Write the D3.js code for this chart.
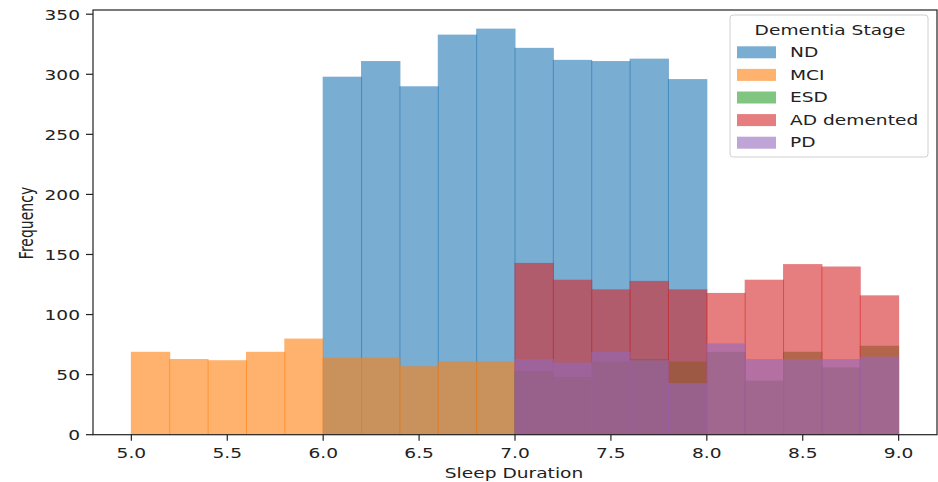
<!DOCTYPE html>
<html>
<head>
<meta charset="utf-8">
<script src="https://cdn.jsdelivr.net/npm/d3@7"></script>
<style>
    html, body { margin: 0; padding: 0; background: #fff; }
    svg { display: block; }
    text { font-family: "DejaVu Sans", sans-serif; fill: #222; }
</style>
</head>
<body>
<svg id="chart" width="938" height="482"></svg>
<script>
'use strict';

// bins of 0.2 h, each series gives the left edge of its first bin
var binWidth = 0.2;
var seriesNames = ['ND', 'MCI', 'ESD', 'AD demented', 'PD'];
var seriesStart = [6.0, 5.0, 7.0, 7.0, 7.0];
var ndCounts = [298, 311, 290, 333, 338, 322, 312, 311, 313, 296];
var mciCounts = [69, 63, 62, 69, 80, 64, 64, 57, 61, 61];
var esdCounts = [53, 48, 61, 63, 61, 69, 45, 69, 56, 74];
var adCounts = [143, 129, 121, 128, 121, 118, 129, 142, 140, 116];
var pdCounts = [63, 60, 69, 62, 43, 76, 63, 63, 63, 65];
var seriesCounts = [ndCounts, mciCounts, esdCounts, adCounts, pdCounts];
var seriesColors = ['#1f77b4', '#ff7f0e', '#2ca02c', '#d62728', '#9467bd'];

var xTicks = [5.0, 5.5, 6.0, 6.5, 7.0, 7.5, 8.0, 8.5, 9.0];
var yTicks = [0, 50, 100, 150, 200, 250, 300, 350];

var barAlpha = 0.6;
var stretch = 1.33;   // text in the picture is widened horizontally

var svg = d3.select('#chart');

var plot = {left: 93, right: 937, top: 10, bottom: 434.7};

var x = d3.scaleLinear().domain([4.8, 9.2]).range([plot.left, plot.right]);
var y = d3.scaleLinear().domain([0, 353.5]).range([plot.bottom, plot.top]);

function addText(parent, px, py, str, anchor, rotate) {
    var t = 'translate(' + px + ',' + py + ') scale(' + stretch + ',1)';
    if(rotate) t += ' rotate(' + rotate + ')';
    return parent.append('text')
        .attr('transform', t)
        .attr('text-anchor', anchor || 'middle')
        .attr('dominant-baseline', 'central')
        .style('font-size', '14px')
        .text(str);
}

// bars, drawn in series order so the later ones sit on top
var barLayer = svg.append('g').classed('bars', true);

seriesCounts.forEach(function(counts, i) {
    var bins = counts.map(function(c, k) {
        var x0 = seriesStart[i] + k * binWidth;
        return {x0: x0, x1: x0 + binWidth, count: c};
    });

    barLayer.append('g')
        .selectAll('rect')
        .data(bins)
        .enter().append('rect')
        // one pixel of overlap gives the darker seam between bars
        .attr('x', function(d) { return x(d.x0) - 0.5; })
        .attr('width', function(d) { return x(d.x1) - x(d.x0) + 1; })
        .attr('y', function(d) { return y(d.count); })
        .attr('height', function(d) { return y(0) - y(d.count); })
        .style('fill', seriesColors[i])
        .style('fill-opacity', barAlpha);
});

// axes
var xAxis = svg.append('g')
    .attr('transform', 'translate(0,' + plot.bottom + ')');

xAxis.selectAll('line.tick')
    .data(xTicks)
    .enter().append('line')
    .classed('tick', true)
    .attr('x1', x).attr('x2', x)
    .attr('y1', 0).attr('y2', 6)
    .style('stroke', '#222').style('stroke-width', 1.2);

xTicks.forEach(function(v) {
    addText(xAxis, x(v), 19, d3.format('.1f')(v));
});

var yAxis = svg.append('g')
    .attr('transform', 'translate(' + plot.left + ',0)');

yAxis.selectAll('line.tick')
    .data(yTicks)
    .enter().append('line')
    .classed('tick', true)
    .attr('x1', -7).attr('x2', 0)
    .attr('y1', y).attr('y2', y)
    .style('stroke', '#222').style('stroke-width', 1.2);

yTicks.forEach(function(v) {
    addText(yAxis, -13, y(v) + 1, String(v), 'end');
});

// spines
svg.append('rect')
    .attr('x', plot.left)
    .attr('y', plot.top)
    .attr('width', plot.right - plot.left)
    .attr('height', plot.bottom - plot.top)
    .style('fill', 'none')
    .style('stroke', '#222')
    .style('stroke-width', 1.2);

addText(svg, (x(5.0) + x(9.0)) / 2 - 1, 473, 'Sleep Duration');
addText(svg, 27, 223, 'Frequency', 'middle', -90);

// legend
var legend = svg.append('g').classed('legend', true);

legend.append('rect')
    .attr('x', 730).attr('y', 15)
    .attr('width', 198).attr('height', 142)
    .attr('rx', 3)
    .style('fill', '#fff').style('fill-opacity', 0.8)
    .style('stroke', '#d0d0d0').style('stroke-width', 1);

addText(legend, 830, 30, 'Dementia Stage');

seriesNames.forEach(function(name, i) {
    var cy = 52.3 + i * 22.6;
    legend.append('rect')
        .attr('x', 737).attr('y', cy - 6)
        .attr('width', 39).attr('height', 12)
        .style('fill', seriesColors[i])
        .style('fill-opacity', barAlpha);
    addText(legend, 790, cy, name, 'start');
});
</script>
</body>
</html>
